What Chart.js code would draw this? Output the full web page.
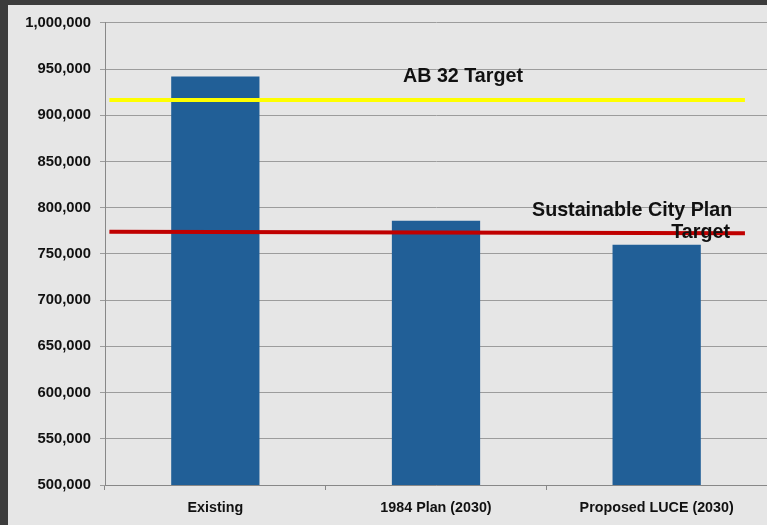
<!DOCTYPE html>
<html>
<head>
<meta charset="utf-8">
<script src="https://cdn.jsdelivr.net/npm/chart.js@4/dist/chart.umd.min.js"></script>
<style>
  html, body { margin:0; padding:0; background:#3c3c3c; width:767px; height:525px; overflow:hidden; }
  #panel { position:absolute; left:8px; top:5px; width:759px; height:520px; background:#e6e6e6; }
  canvas { display:block; }
</style>
</head>
<body>
<div id="panel"><canvas id="c" width="759" height="520"></canvas></div>
<script>
const categories = ['Existing', '1984 Plan (2030)', 'Proposed LUCE (2030)'];
const emissions = [942000, 786000, 760000];
const ab32Target = [916500, 916500];
const sustainableTarget = [774000, 772500];
const targetSpan = [0.02, 2.9];
const yTicks = [500000, 550000, 600000, 650000, 700000, 750000, 800000, 850000, 900000, 950000, 1000000];

const FONT = '"Liberation Sans", Arial, sans-serif';

const textPlugin = {
  id: 'annot',
  afterDatasetsDraw(chart) {
    const ctx = chart.ctx;
    ctx.save();
    ctx.fillStyle = '#111';
    ctx.font = 'bold 19.7px ' + FONT;
    ctx.textBaseline = 'alphabetic';
    ctx.textAlign = 'left';
    ctx.fillText('AB 32 Target', 395, 77);
    ctx.fillText('Sustainable City Plan', 524, 211);
    ctx.textAlign = 'right';
    ctx.fillText('Target', 722, 233);
    ctx.restore();
  }
};

new Chart(document.getElementById('c'), {
  type: 'bar',
  data: {
    labels: categories,
    datasets: [
      {
        type: 'bar',
        xAxisID: 'x',
        data: emissions,
        backgroundColor: '#215f97',
        barPercentage: 0.4,
        categoryPercentage: 1.0,
        grouped: false,
        order: 3
      },
      {
        type: 'line',
        xAxisID: 'x2',
        data: targetSpan.map((x, i) => ({ x: x, y: ab32Target[i] })),
        borderColor: '#ffff00',
        borderWidth: 4,
        pointRadius: 0,
        fill: false,
        order: 1
      },
      {
        type: 'line',
        xAxisID: 'x2',
        data: targetSpan.map((x, i) => ({ x: x, y: sustainableTarget[i] })),
        borderColor: '#c00000',
        borderWidth: 4,
        pointRadius: 0,
        fill: false,
        order: 2
      }
    ]
  },
  options: {
    responsive: false,
    animation: false,
    layout: { padding: { top: 15, right: 0, left: 0, bottom: 0 } },
    plugins: { legend: { display: false }, tooltip: { enabled: false } },
    scales: {
      x: {
        type: 'category',
        offset: true,
        grid: { display: true, drawOnChartArea: false, tickLength: 5, color: '#888', offset: true },
        border: { color: '#888', width: 1 },
        ticks: { color: '#111', font: { family: FONT, size: 14.3, weight: 'bold' }, padding: 9.5, maxRotation: 0 },
        afterFit(scale) { scale.height = 40; }
      },
      x2: {
        type: 'linear',
        display: false,
        offset: false,
        min: 0,
        max: 3
      },
      y: {
        min: 500000,
        max: 1000000,
        afterBuildTicks(scale) { scale.ticks = yTicks.map(v => ({ value: v })); },
        grid: { color: '#9c9c9c', lineWidth: 1, tickLength: 5 },
        border: { color: '#888', width: 1 },
        ticks: {
          color: '#111',
          font: { family: FONT, size: 14.8, weight: 'bold' },
          padding: 9,
          callback: v => Number(v).toLocaleString('en-US')
        },
        afterFit(scale) { scale.width = 97; }
      }
    }
  },
  plugins: [textPlugin]
});
</script>
</body>
</html>
